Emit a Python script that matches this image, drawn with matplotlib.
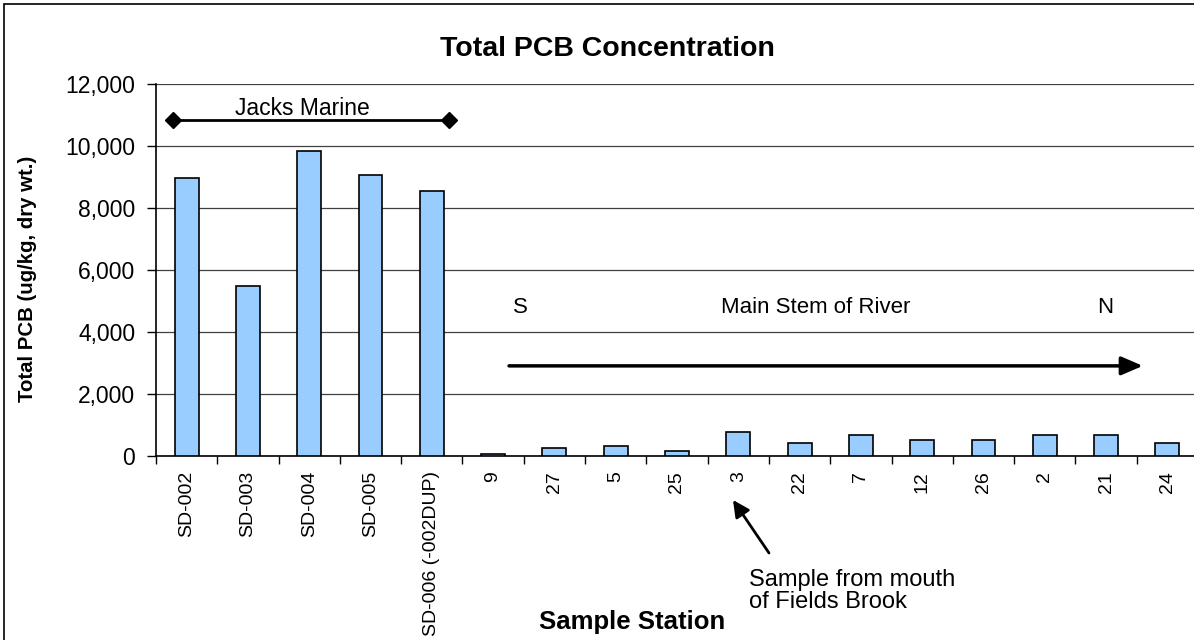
import numpy as np
import matplotlib
matplotlib.use('Agg')
import matplotlib.pyplot as plt
from matplotlib.patches import Rectangle
from matplotlib.ticker import FuncFormatter

plt.rcParams['font.family'] = ['Liberation Sans', 'DejaVu Sans']

# sample stations, Jacks Marine first, then main stem S -> N
stations = ['SD-002', 'SD-003', 'SD-004', 'SD-005', 'SD-006 (-002DUP)',
            '9', '27', '5', '25', '3', '22', '7', '12', '26', '2', '21', '24']
pcb = [8970, 5470, 9850, 9070, 8550,
       50, 250, 310, 150, 760, 400, 660, 500, 500, 660, 660, 400]

W, H = 1194, 640
fig = plt.figure(figsize=(W / 100, H / 100), dpi=100)
ax = fig.add_axes([156 / W, (H - 455.7) / H, (1198 - 156) / W, (455.7 - 84) / H])

x = np.arange(len(stations))
ax.bar(x, pcb, width=0.39, color='#99CCFF', edgecolor='black', linewidth=1.2, zorder=3)

ax.set_xlim(-0.5, len(stations) - 0.5)
ax.set_ylim(0, 12000)
ax.set_yticks(np.arange(0, 12001, 2000))
ax.yaxis.set_major_formatter(FuncFormatter(lambda v, p: '{:,.0f}'.format(v)))
ax.tick_params(axis='y', labelsize=16.5, length=6.5, width=1, pad=8.5, direction='out')

ax.set_xticks(x)
ax.set_xticklabels(stations, rotation=90, fontsize=14)
ax.tick_params(axis='x', which='major', length=0, pad=11)
ax.set_xticks(np.arange(-0.5, len(stations)), minor=True)
ax.tick_params(axis='x', which='minor', length=6, width=1, direction='out')

ax.yaxis.grid(True, color='#404040', linewidth=0.9)
ax.set_axisbelow(True)
ax.spines['top'].set_visible(False)
ax.spines['right'].set_visible(False)
ax.spines['left'].set_linewidth(1.2)
ax.spines['bottom'].set_linewidth(1.2)

# Jacks Marine span
ax.plot([-0.23, 4.28], [10850, 10850], color='black', lw=2, marker='D', ms=8,
        clip_on=False, zorder=4)
ax.text(1.89, 11200, 'Jacks Marine', ha='center', va='center', fontsize=16.5)

# main stem arrow S -> N
ax.annotate('', xy=(15.6, 2900), xytext=(5.26, 2900),
            arrowprops=dict(arrowstyle='-|>,head_length=0.65,head_width=0.28',
                            color='black', lw=2.5, mutation_scale=20, shrinkA=0, shrinkB=0))
ax.text(5.44, 4800, 'S', ha='center', va='center', fontsize=16)
ax.text(10.27, 4800, 'Main Stem of River', ha='center', va='center', fontsize=16)
ax.text(14.98, 4800, 'N', ha='center', va='center', fontsize=16)

# Fields Brook note
ax.annotate('', xy=(733, H - 500), xytext=(769, H - 553),
            xycoords='figure pixels', textcoords='figure pixels',
            arrowprops=dict(arrowstyle='-|>,head_length=0.5,head_width=0.25',
                            color='black', lw=2, mutation_scale=20, shrinkA=0, shrinkB=0))
fig.text(749 / W, 1 - 591 / H, 'Sample from mouth\nof Fields Brook',
         ha='left', va='center', fontsize=17, linespacing=1.0)

fig.text(607 / W, 1 - 49 / H, 'Total PCB Concentration', ha='center', va='center',
         fontsize=20.5, fontweight='bold')
fig.text(632 / W, 1 - 622 / H, 'Sample Station', ha='center', va='center',
         fontsize=18.5, fontweight='bold')
fig.text(28 / W, 1 - 279 / H, 'Total PCB (ug/kg, dry wt.)', ha='center', va='center',
         rotation=90, fontsize=14.7, fontweight='bold')

# chart frame
fig.patches.append(Rectangle((4 / W, -0.1), 1.2, 1.1 - 4 / H, transform=fig.transFigure,
                             fill=False, edgecolor='black', linewidth=1.2))

fig.savefig('out.png', dpi=100)
